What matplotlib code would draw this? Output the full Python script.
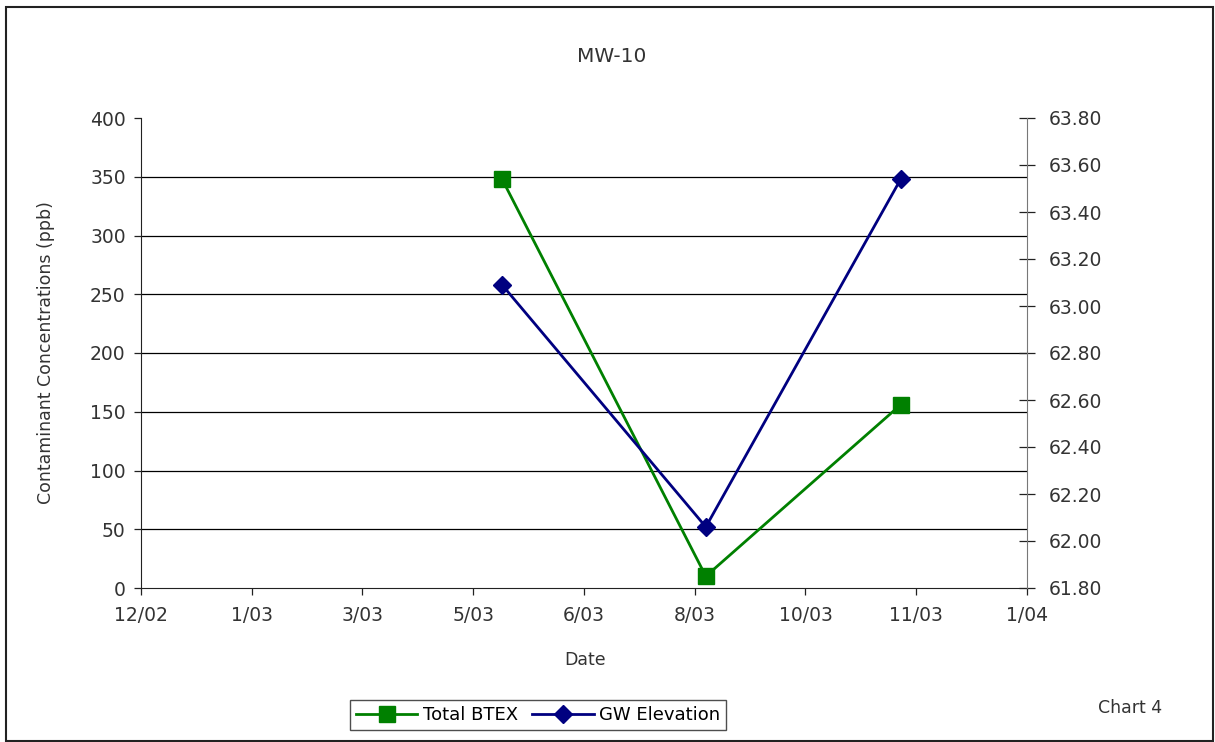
import matplotlib
matplotlib.use("Agg")
import matplotlib.pyplot as plt
import matplotlib.dates as mdates
from matplotlib.ticker import FuncFormatter, MultipleLocator
from matplotlib.patches import Rectangle
import datetime as dt

# sample dates and readings
dates = [dt.date(2003, 5, 19), dt.date(2003, 8, 19), dt.date(2003, 11, 15)]
btex = [348, 10, 156]
gw_elev = [63.09, 62.06, 63.54]

# date axis: Excel-style, start + 50 day steps
x_start = dt.date(2002, 12, 7)
x_ticks = [x_start + dt.timedelta(days=50 * i) for i in range(9)]

plt.rcParams['font.family'] = 'DejaVu Sans'
fig = plt.figure(figsize=(12.15, 7.42), dpi=100)
fig.patches.append(Rectangle((6 / 1215, 1 - 741 / 742), 1207 / 1215, 734 / 742,
                             transform=fig.transFigure, fill=False,
                             edgecolor='#222222', linewidth=1.5))

ax = fig.add_axes([141 / 1215, 1 - 588 / 742, 886 / 1215, 470 / 742])
ax2 = ax.twinx()

ax.set_xlim(x_ticks[0], x_ticks[-1])
ax.set_xticks(x_ticks)
ax.xaxis.set_major_formatter(FuncFormatter(
    lambda v, p: "%d/%s" % (mdates.num2date(v).month, mdates.num2date(v).strftime('%y'))))
ax.set_ylim(0, 400)
ax.yaxis.set_major_locator(MultipleLocator(50))
# horizontal gridlines, none on the top value
for yv in range(50, 400, 50):
    ax.axhline(yv, color='black', linewidth=0.9, zorder=1)

ax2.set_ylim(61.8, 63.8)
ax2.yaxis.set_major_locator(MultipleLocator(0.2))
ax2.yaxis.set_major_formatter(FuncFormatter(lambda v, p: "%.2f" % v))

for s in ['top']:
    ax.spines[s].set_visible(False)
    ax2.spines[s].set_visible(False)
ax.spines['right'].set_visible(False)
ax2.spines['left'].set_visible(False)
ax2.spines['bottom'].set_visible(False)
ax2.spines['right'].set_color('#777777')
ax.spines['left'].set_color('#222222')
ax.spines['bottom'].set_color('#222222')

ax.tick_params(axis='both', labelsize=13.5, labelcolor='#333333', colors='#222222',
               length=5, width=0.9, pad=6)
ax.tick_params(axis='x', pad=8)
ax2.tick_params(axis='y', labelsize=13.5, labelcolor='#333333', colors='#222222',
                direction='inout', length=11, width=0.9, pad=10)

l1, = ax.plot(dates, btex, color='#008000', linewidth=2.0, marker='s',
              markersize=11, label='Total BTEX', zorder=3)
l2, = ax2.plot(dates, gw_elev, color='#000080', linewidth=2.0, marker='D',
               markersize=9, label='GW Elevation', zorder=3)

fig.text(612 / 1215, 1 - 57 / 742, 'MW-10', fontsize=14.5, ha='center', va='center', color='#333333')
fig.text(585 / 1215, 1 - 660 / 742, 'Date', fontsize=12.5, ha='center', va='center', color='#333333')
fig.text(46 / 1215, 1 - 353 / 742, 'Contaminant Concentrations (ppb)', fontsize=12.5,
         rotation=90, ha='center', va='center', color='#333333')
fig.text(1130 / 1215, 1 - 708 / 742, 'Chart 4', fontsize=12.5, ha='center', va='center', color='#333333')

leg = fig.legend(handles=[l1, l2], loc='center', bbox_to_anchor=(538 / 1215, 1 - 715 / 742),
                 ncol=2, fontsize=13, frameon=True, fancybox=False, handlelength=3.4,
                 columnspacing=0.8, handletextpad=0.3, borderpad=0.35)
leg.get_frame().set_edgecolor('#222222')
leg.get_frame().set_linewidth(1.0)

fig.savefig('out.png', dpi=100)
